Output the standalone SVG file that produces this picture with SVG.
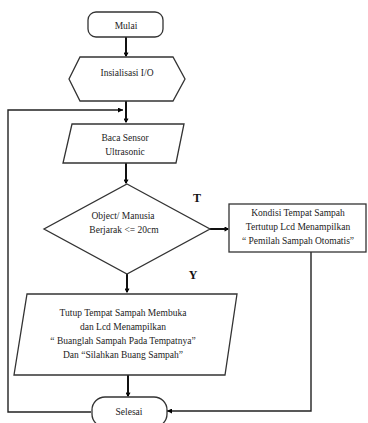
<svg xmlns="http://www.w3.org/2000/svg" width="368" height="423" viewBox="0 0 368 423">
<defs>
<marker id="v" viewBox="0 0 10 10" refX="8" refY="5" markerWidth="5" markerHeight="5" orient="auto" markerUnits="userSpaceOnUse">
<path d="M1,1 L8,5 L1,9" fill="none" stroke="#000" stroke-width="2.2"/>
</marker>
<marker id="t" viewBox="0 0 10 10" refX="10" refY="5" markerWidth="5" markerHeight="5" orient="auto" markerUnits="userSpaceOnUse">
<path d="M0,0 L10,5 L0,10 Z" fill="#000"/>
</marker>
</defs>
<style>
.s{fill:#fff;stroke:#333;stroke-width:1.3}
text{font-family:"Liberation Serif","Times New Roman",serif;font-size:9.5px;fill:#222;text-anchor:middle}
.b{font-weight:bold;font-size:12px;fill:#111}
.a{fill:none;stroke:#111;stroke-width:2;marker-end:url(#v)}
.l{fill:none;stroke:#222;stroke-width:1.4}
.lt{fill:none;stroke:#222;stroke-width:1.4;marker-end:url(#t)}
</style>
<rect width="368" height="423" fill="#fff"/>
<g id="connectors">
<path class="a" d="M126,37 V56"/>
<path class="a" d="M126,101 V122"/>
<path class="lt" d="M91,412 H8 V110 H123"/>
<path class="a" d="M126,163 V183"/>
<path class="a" d="M210,229 H228"/>
<path class="a" d="M127,274 V292"/>
<path class="lt" d="M311,252 V411 H167"/>
<path class="a" d="M128,375 V396"/>
</g>
<g id="mulai">
<rect class="s" x="88" y="12" width="75" height="25" rx="8"/>
<text x="126" y="28.5">Mulai</text>
</g>
<g id="insialisasi">
<polygon class="s" points="80,57 173,57 185,79 173,101 80,101 69,79"/>
<text x="127" y="76">Insialisasi I/O</text>
</g>
<g id="baca">
<polygon class="s" points="72,124 184,124 176,163 63,163"/>
<text x="125" y="141">Baca Sensor</text>
<text x="125" y="155">Ultrasonic</text>
</g>
<g id="kondisi">
<polygon class="s" points="127,184 210,229 127,274 44,229"/>
<text x="123" y="219">Object/ Manusia</text>
<text x="124" y="233">Berjarak &lt;= 20cm</text>
</g>
<text class="b" x="197" y="202">T</text>
<text class="b" x="193" y="279">Y</text>
<g id="tertutup">
<rect class="s" x="229" y="204" width="137" height="48"/>
<text x="298" y="216">Kondisi Tempat Sampah</text>
<text x="298" y="230">Tertutup Lcd Menampilkan</text>
<text x="298" y="244">“ Pemilah Sampah Otomatis”</text>
</g>
<g id="membuka">
<polygon class="s" points="27,294 237,294 225,375 14,375"/>
<text x="123" y="316">Tutup Tempat Sampah Membuka</text>
<text x="123" y="330">dan Lcd Menampilkan</text>
<text x="123" y="344">“ Buanglah Sampah Pada Tempatnya”</text>
<text x="123" y="358">Dan “Silahkan Buang Sampah”</text>
</g>
<g id="selesai">
<rect class="s" x="92" y="397" width="75" height="30" rx="13"/>
<text x="129" y="415">Selesai</text>
</g>
</svg>
